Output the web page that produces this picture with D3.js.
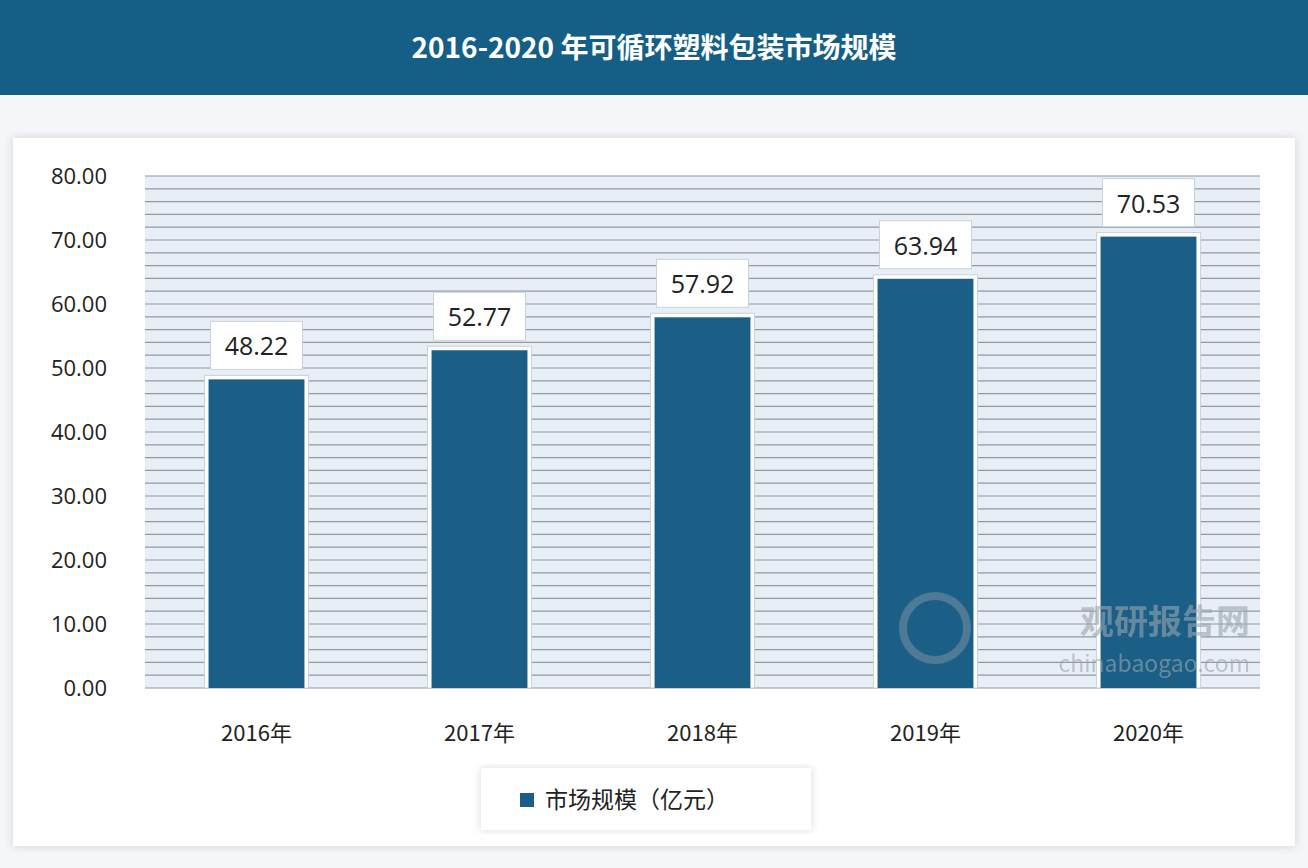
<!DOCTYPE html><html><head><meta charset="utf-8">
<script src="https://cdn.jsdelivr.net/npm/d3@7"></script>
<style>body{margin:0;background:#f4f6f9;font-family:"Noto Sans CJK SC","Noto Sans",sans-serif}</style></head><body>
<svg id="c" width="1308" height="868"></svg>
<script>
const title="2016-2020 年可循环塑料包装市场规模";
const categories=["2016年","2017年","2018年","2019年","2020年"];
const values=[48.22,52.77,57.92,63.94,70.53];
const seriesName="市场规模（亿元）";
const yTicks=[0,10,20,30,40,50,60,70,80];
const svg=d3.select("#c");
svg.append("rect").attr("width",1308).attr("height",95).attr("fill","#155f87");
svg.append("text").attr("x",654).attr("y",58).attr("text-anchor","middle").attr("fill","#fff").attr("font-size",28).attr("font-weight","bold").text(title);
const defs=svg.append("defs");
const f=defs.append("filter").attr("id","sh").attr("x","-5%").attr("y","-5%").attr("width","110%").attr("height","110%");
f.append("feDropShadow").attr("dx",0).attr("dy",0).attr("stdDeviation",5).attr("flood-color","#000").attr("flood-opacity",0.15);
svg.append("rect").attr("x",13).attr("y",138).attr("width",1282).attr("height",708).attr("fill","#fff").attr("filter","url(#sh)");
const x=d3.scaleBand().domain(categories).range([145,1260]).paddingInner(0.57).paddingOuter(0.285);
const y=d3.scaleLinear().domain([0,80]).range([688,176]);
svg.append("rect").attr("x",145).attr("y",y(80)).attr("width",1115).attr("height",y(0)-y(80)).attr("fill","#e7eef6");
const g=svg.append("g");
g.selectAll("line").data(d3.range(0,81,2)).join("line").attr("x1",145).attr("x2",1260).attr("y1",d=>y(d)).attr("y2",d=>y(d)).attr("stroke","#8f9aa3").attr("stroke-width",1.2);
const ax=svg.append("g").attr("transform","translate(110,0)").call(d3.axisLeft(y).tickValues(yTicks).tickFormat(d3.format(".2f")).tickSize(0));
ax.select(".domain").remove();
ax.selectAll("text").attr("font-size",22).attr("fill","#222").attr("font-family","Open Sans,Noto Sans,sans-serif");
svg.selectAll(".bo").data(values).join("rect").attr("x",(d,i)=>x(categories[i])-4).attr("y",d=>y(d)-4).attr("width",x.bandwidth()+8).attr("height",d=>y(0)-y(d)+4).attr("fill","#fff").attr("stroke","#c9d2da");
svg.selectAll(".b").data(values).join("rect").attr("x",(d,i)=>x(categories[i])).attr("y",d=>y(d)).attr("width",x.bandwidth()).attr("height",d=>y(0)-y(d)).attr("fill","#1b5e86");
const lab=svg.selectAll(".l").data(values).join("g").attr("transform",(d,i)=>`translate(${x(categories[i])+x.bandwidth()/2},${y(d)-33})`);
lab.append("rect").attr("x",-46).attr("y",-25).attr("width",92).attr("height",48).attr("fill","#fff").attr("stroke","#c9d2da");
lab.append("text").attr("text-anchor","middle").attr("y",9).attr("font-size",25).attr("fill","#222").attr("font-family","Open Sans,Noto Sans,sans-serif").text(d=>d.toFixed(2));
svg.selectAll(".c").data(categories).join("text").attr("x",d=>x(d)+x.bandwidth()/2).attr("y",741).attr("text-anchor","middle").attr("font-size",22).attr("fill","#222").text(d=>d);
svg.append("rect").attr("x",481).attr("y",768).attr("width",330).attr("height",62).attr("fill","#fff").attr("filter","url(#sh)");
svg.append("rect").attr("x",520).attr("y",793).attr("width",14).attr("height",14).attr("fill","#1b5e86");
svg.append("text").attr("x",545).attr("y",808).attr("font-size",23).attr("fill","#222").text(seriesName);
svg.append("text").attr("x",1250).attr("y",634).attr("text-anchor","end").attr("font-size",34).attr("font-weight","bold").attr("fill","#9aa6b0").attr("opacity",0.6).text("观研报告网");
svg.append("text").attr("x",1250).attr("y",672).attr("text-anchor","end").attr("font-size",23).attr("fill","#9aa6b0").attr("opacity",0.6).text("chinabaogao.com");
svg.append("circle").attr("cx",935).attr("cy",628).attr("r",32).attr("fill","none").attr("stroke","#9aa6b0").attr("stroke-width",8).attr("opacity",0.4);
</script></body></html>
